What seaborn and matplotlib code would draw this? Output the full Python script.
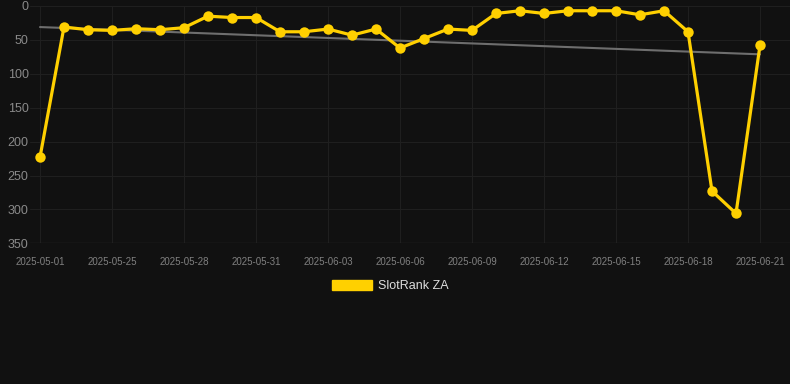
import matplotlib
matplotlib.use("Agg")
import matplotlib.pyplot as plt
import matplotlib.patches as mpatches
import numpy as np
import pandas as pd
import seaborn as sns

# Data (rank, lower is better)
ranks = [223, 31, 35, 36, 33.5, 35, 32, 15, 17, 17, 38, 38, 34, 43, 34,
         62, 48, 34, 36, 11, 7, 11, 7, 7, 7, 13, 7, 38, 273, 306, 58]
tick_labels = ["2025-05-01", "2025-05-25", "2025-05-28", "2025-05-31",
               "2025-06-03", "2025-06-06", "2025-06-09", "2025-06-12",
               "2025-06-15", "2025-06-18", "2025-06-21"]
y_ticks = [0, 50, 100, 150, 200, 250, 300, 350]
series_name = "SlotRank ZA"

BG = "#111111"
GOLD = "#FFD000"

sns.set_theme(style="dark")
plt.rcParams["font.family"] = ["Liberation Sans", "DejaVu Sans"]

df = pd.DataFrame({"idx": np.arange(len(ranks)), "rank": ranks})

fig = plt.figure(figsize=(7.9, 3.84), dpi=100, facecolor=BG)
ax = fig.add_axes([30 / 790, 1 - 243.3 / 384, 760 / 790, (243.3 - 6) / 384])
ax.set_facecolor(BG)

# trend line (linear fit)
coef = np.polyfit(df["idx"], df["rank"], 1)
trend = np.polyval(coef, df["idx"])
ax.plot(df["idx"], trend, color="#6e6e6e", lw=1.5, zorder=2)

sns.lineplot(data=df, x="idx", y="rank", ax=ax, color=GOLD, lw=2.3,
             marker="o", markersize=7.5, markeredgewidth=0, zorder=3,
             clip_on=False)

ax.set_ylim(350, 0)
ax.set_xlim(-10 / 24, 31.25)
ax.set_yticks(y_ticks)
ax.set_yticklabels([str(v) for v in y_ticks], fontsize=9, color="#8a8a8a")
ax.set_xticks(np.arange(0, len(ranks), 3))
ax.set_xticklabels(tick_labels, fontsize=7, color="#808080")
ax.tick_params(axis="x", length=0, pad=10)
ax.tick_params(axis="y", length=0, pad=1)
ax.set_xlabel("")
ax.set_ylabel("")
ax.grid(True, color="#1f1f1f", lw=0.8)
for s in ax.spines.values():
    s.set_visible(False)
ax.axhline(350, color="#2a2a2a", lw=1, zorder=1)

handle = mpatches.Patch(color=GOLD, label=series_name)
leg = fig.legend(handles=[handle], loc="center", bbox_to_anchor=(0.494, 0.255),
                 frameon=False, fontsize=9, handlelength=3.2, handleheight=0.9,
                 handletextpad=0.5)
for t in leg.get_texts():
    t.set_color("#dddddd")

fig.savefig("out.png", dpi=100, facecolor=BG)
